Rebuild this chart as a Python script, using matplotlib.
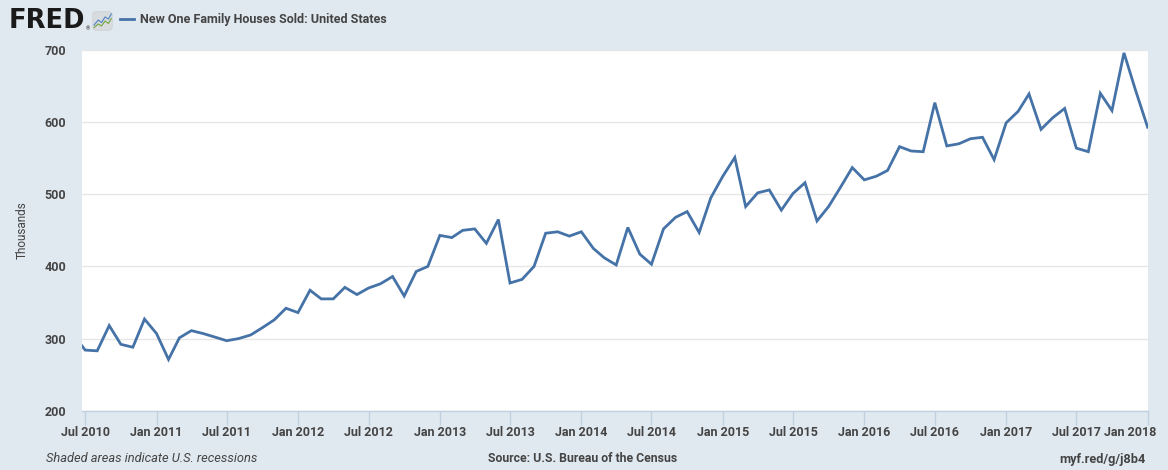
import matplotlib
matplotlib.use("Agg")
import matplotlib.pyplot as plt
import matplotlib.transforms as mtransforms
from matplotlib.patches import FancyBboxPatch
import pandas as pd

# ---- data ----
months = pd.date_range("2010-06-01", "2018-01-01", freq="MS")
sales = [305,
         284, 283, 318, 292, 288, 327,
         307, 271, 301, 311, 307, 302, 297, 300, 305, 315, 326, 342,
         336, 367, 355, 355, 371, 361, 370, 376, 386, 359, 393, 400,
         443, 440, 450, 452, 432, 465, 377, 382, 400, 446, 448, 442,
         448, 425, 412, 402, 454, 417, 403, 452, 468, 476, 447, 495,
         525, 551, 483, 502, 506, 478, 501, 516, 463, 483, 510, 537,
         520, 525, 533, 566, 560, 559, 627, 567, 570, 577, 579, 548,
         599, 615, 639, 590, 606, 619, 564, 559, 640, 616, 696, 644,
         593]
tick_dates = pd.date_range("2010-07-01", "2018-01-01", freq="6MS")
tick_labels = [d.strftime("%b %Y") for d in tick_dates]
y_ticks = [200, 300, 400, 500, 600, 700]

title = "New One Family Houses Sold: United States"
bg = "#E1E9F0"
line_color = "#4572A7"
text_color = "#444444"

plt.rcParams['font.family'] = ['Roboto', 'DejaVu Sans']

W, H = 1168, 470
fig = plt.figure(figsize=(W/100, H/100), dpi=100, facecolor=bg)
ax = fig.add_axes([81.7/W, 1-410.7/H, (1148-81.7)/W, (410.7-50)/H])
ax.set_facecolor("white")
ax.plot(months, sales, color=line_color, lw=2.0, solid_joinstyle="miter", zorder=3)

ax.set_xlim(pd.Timestamp("2010-06-22"), pd.Timestamp("2018-01-02"))
ax.set_ylim(200, 700)
ax.set_yticks(y_ticks)
ax.set_yticklabels([str(v) for v in y_ticks])
ax.yaxis.grid(True, color="#E6E6E6", lw=1)
ax.set_axisbelow(True)
ax.tick_params(axis="y", length=0, pad=11, labelsize=9, labelcolor=text_color)
for lab in ax.get_yticklabels():
    lab.set_fontweight("bold")

ax.set_xticks(tick_dates)
ax.set_xticklabels(tick_labels)
ax.tick_params(axis="x", length=10, width=1, color="#C0D0E0", pad=1,
               labelsize=9, labelcolor=text_color)
for lab in ax.get_xticklabels():
    lab.set_fontweight("bold")
last = ax.get_xticklabels()[-1]
last.set_transform(last.get_transform() + mtransforms.ScaledTranslation(-17/100, 0, fig.dpi_scale_trans))

for s in ["top", "right", "left"]:
    ax.spines[s].set_visible(False)
ax.spines["bottom"].set_color("#C0D0E0")
ax.spines["bottom"].set_linewidth(1)

fig.text(22/W, 1-230/H, "Thousands", rotation=90, ha="center", va="center",
         fontsize=8.5, color=text_color)

# header
fig.text(9/W, 1-20.5/H, "FRED", fontsize=18.5, fontweight="bold", color="#1a1a1a",
         family="DejaVu Sans", ha="left", va="center")
fig.text(86/W, 1-28.5/H, "®", fontsize=4, color="#1a1a1a", ha="left", va="center")
iax = fig.add_axes([92/W, 1-31/H, 21/W, 20/H])
iax.set_xlim(0, 1); iax.set_ylim(0, 1); iax.axis("off")
iax.add_patch(FancyBboxPatch((0.04, 0.04), 0.92, 0.92, boxstyle="round,pad=0,rounding_size=0.15",
                             fc="#D9DCDF", ec="#C8CCD0", lw=0.5))
iax.plot([0.1, 0.3, 0.45, 0.62, 0.78, 0.92], [0.3, 0.55, 0.42, 0.7, 0.6, 0.85], color="#5B8BC7", lw=0.9)
iax.plot([0.1, 0.3, 0.45, 0.62, 0.78, 0.92], [0.18, 0.35, 0.25, 0.5, 0.38, 0.62], color="#7BAA4A", lw=0.9)

fig.add_artist(plt.Line2D([120/W, 134/W], [1-19/H, 1-19/H], color=line_color, lw=2))
fig.text(140/W, 1-19.5/H, title, fontsize=9, fontweight="bold", color=text_color,
         ha="left", va="center")

# footer
fig.text(46/W, 1-459/H, "Shaded areas indicate U.S. recessions", fontsize=9.3,
         style="italic", color=text_color, ha="left", va="center")
fig.text(583/W, 1-459/H, "Source: U.S. Bureau of the Census", fontsize=8.8,
         fontweight="bold", color=text_color, ha="center", va="center")
fig.text(1146/W, 1-459/H, "myf.red/g/j8b4", fontsize=9.2,
         fontweight="bold", color=text_color, ha="right", va="center")

fig.savefig("out.png", dpi=100, facecolor=bg)
